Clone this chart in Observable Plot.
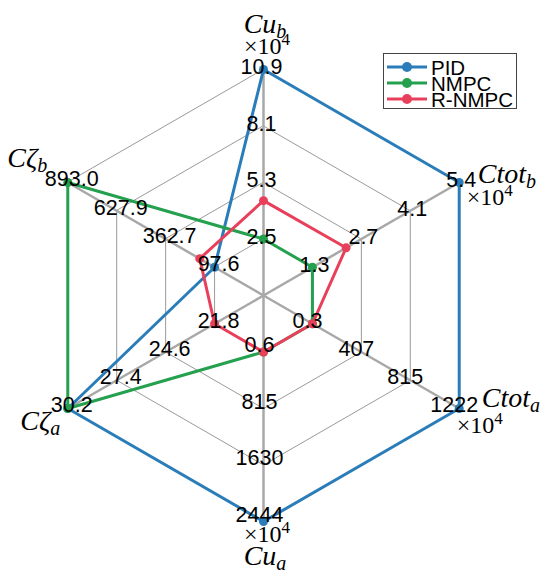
<!DOCTYPE html>
<html><head><meta charset="utf-8">
<script src="https://cdn.jsdelivr.net/npm/d3@7"></script>
<script src="https://cdn.jsdelivr.net/npm/@observablehq/plot@0.6"></script>
<style>
body{margin:0;background:#fff}
#wrap{position:relative;width:550px;height:576px;overflow:hidden}
#legend{position:absolute;left:383px;top:53px;width:134px;height:56px;border:1px solid #444;background:#fff;box-sizing:border-box;font-family:"Liberation Sans",Arial,sans-serif;font-size:20.5px;line-height:16px;color:#000}
#legend .row{position:absolute;left:0;height:16px;white-space:nowrap}
#legend svg{position:absolute;left:3px;top:0}
#legend span{position:absolute;left:47px;top:1px}
</style>
</head><body><div id="wrap"></div>
<script>
// ---- data ----
const axisNames = ["Cu_b", "Ctot_b", "Ctot_a", "Cu_a", "Cζ_a", "Cζ_b"];
const axisMain = ["Cu", "Ctot", "Ctot", "Cu", "Cζ", "Cζ"];
const axisSub = ["b", "b", "a", "a", "a", "b"];
const axisScaled = [true, true, true, true, false, false];
const axisAngles = [90, 30, -30, -90, -150, 150];
const axisMin = [2.5, 1.34, 0.3, 0.6, 21.8, 97.6];
const axisMax = [10.9, 5.44, 1222, 2444, 30.2, 893.0];
const tickLabels = [
  ["2.5", "5.3", "8.1", "10.9"],
  ["1.3", "2.7", "4.1", "5.4"],
  ["0.3", "407", "815", "1222"],
  ["0.6", "815", "1630", "2444"],
  ["21.8", "24.6", "27.4", "30.2"],
  ["97.6", "362.7", "627.9", "893.0"]
];
const ringLevels = [0.25, 0.5, 0.75, 1];
const seriesNames = ["PID", "NMPC", "R-NMPC"];
const pidValues = [10.9, 5.44, 1222, 2444, 30.2, 97.6];
const nmpcValues = [2.5, 1.34, 0.3, 0.6, 30.2, 893.0];
const rnmpcValues = [4.4, 2.28, 0.3, 0.6, 21.8, 178];
const seriesColors = ["#2a7db9", "#24a04e", "#e8405a"];

// ---- build ----
const rad = a => a * Math.PI / 180;
const radial = axisMin.map((mn, i) => d3.scaleLinear([mn, axisMax[i]], [ringLevels[0], 1]));
const seriesValues = [pidValues, nmpcValues, rnmpcValues];
const seriesRows = seriesNames.flatMap((s, k) => seriesValues[k].map((v, i) => {
  const r = radial[i](v);
  return {series: s, axis: axisNames[i], u: r * Math.cos(rad(axisAngles[i])), v: r * Math.sin(rad(axisAngles[i]))};
}));
const ringRows = ringLevels.flatMap(l => axisAngles.map(a => ({ring: l, u: l * Math.cos(rad(a)), v: l * Math.sin(rad(a))})));
const spokeRows = axisAngles.map(a => ({u: Math.cos(rad(a)), v: Math.sin(rad(a))}));
const tickRows = axisNames.flatMap((name, i) => tickLabels[i].map((t, j) => ({
  axis: i, text: t, u: ringLevels[j] * Math.cos(rad(axisAngles[i])), v: ringLevels[j] * Math.sin(rad(axisAngles[i]))
})));

// per-axis tick label nudges (pixels)
const tickDx = [-2, 2, -5, -4, 4, 4];
const tickDy = [-2, -2, -3, 0, -3, -3];

const W = 550, H = 576, cx = 263, cy = 295, R = 226;
const tickMarks = axisNames.map((n, i) => Plot.text(tickRows.filter(d => d.axis === i), {
  x: "u", y: "v", text: "text", fontSize: 21.5, fill: "black", dx: tickDx[i], dy: tickDy[i],
  lineAnchor: axisAngles[i] === -90 ? "bottom" : "middle"
}));
const plot = Plot.plot({
  width: W, height: H,
  margin: 0,
  x: {domain: [-cx / R, (W - cx) / R], range: [0, W], axis: null},
  y: {domain: [-(H - cy) / R, cy / R], range: [H, 0], axis: null},
  color: {domain: seriesNames, range: seriesColors},
  style: {fontFamily: "'Liberation Sans', Arial, sans-serif", fontSize: "21px", background: "white", overflow: "visible"},
  marks: [
    Plot.line(ringRows, {x: "u", y: "v", z: "ring", curve: "linear-closed", stroke: "#9a9a9a", strokeWidth: 1}),
    Plot.link(spokeRows, {x1: 0, y1: 0, x2: "u", y2: "v", stroke: "#a8a8a8", strokeWidth: 2.5}),
    Plot.line(seriesRows, {x: "u", y: "v", z: "series", stroke: "series", curve: "linear-closed", strokeWidth: 3}),
    Plot.dot(seriesRows, {x: "u", y: "v", fill: "series", r: 4.5}),
    ...tickMarks
  ]
});
document.getElementById("wrap").appendChild(plot);

// ---- axis titles ----
const sx = plot.scale("x"), sy = plot.scale("y");
const svg = d3.select(plot);
// pixel offsets from each axis end: [title dx, dy, anchor, scale dx, dy, anchor]
const titleLayout = [
  [2, -36, "middle", 4, -15, "middle"],
  [19, 1, "start", 8, 23, "start"],
  [23, -1, "start", -2, 25, "start"],
  [2, 44, "middle", 4, 21, "middle"],
  [-47, 22, "start", 0, 0, "start"],
  [-60, -15, "start", 0, 0, "start"]
];
axisNames.forEach((name, i) => {
  const px = sx.apply(Math.cos(rad(axisAngles[i])));
  const py = sy.apply(Math.sin(rad(axisAngles[i])));
  const L = titleLayout[i];
  const t = svg.append("text")
    .attr("x", px + L[0]).attr("y", py + L[1])
    .attr("text-anchor", L[2])
    .style("font-family", "'Liberation Serif', 'DejaVu Serif', serif")
    .style("font-style", "italic")
    .style("font-size", "28px")
    .attr("fill", "black");
  t.append("tspan").text(axisMain[i]);
  t.append("tspan").style("font-size", "20px").attr("dy", 5).text(axisSub[i]);
  if (axisScaled[i]) {
    const s = svg.append("text")
      .attr("x", px + L[3]).attr("y", py + L[4])
      .attr("text-anchor", L[5])
      .style("font-family", "'Liberation Serif', 'DejaVu Serif', serif")
      .style("font-size", "24px")
      .attr("fill", "black");
    s.append("tspan").text("×10");
    s.append("tspan").style("font-size", "17px").attr("dy", -9).text("4");
  }
});

// ---- legend ----
const legend = d3.select("#wrap").append("div").attr("id", "legend");
seriesNames.forEach((s, k) => {
  const row = legend.append("div").attr("class", "row").style("top", (5 + k * 16) + "px").style("width", "130px");
  const sw = row.append("svg").attr("width", 42).attr("height", 16);
  sw.append("line").attr("x1", 0).attr("x2", 40).attr("y1", 8).attr("y2", 8).attr("stroke", seriesColors[k]).attr("stroke-width", 3);
  sw.append("circle").attr("cx", 20).attr("cy", 8).attr("r", 5).attr("fill", seriesColors[k]);
  row.append("span").text(s);
});
</script>
</body></html>
